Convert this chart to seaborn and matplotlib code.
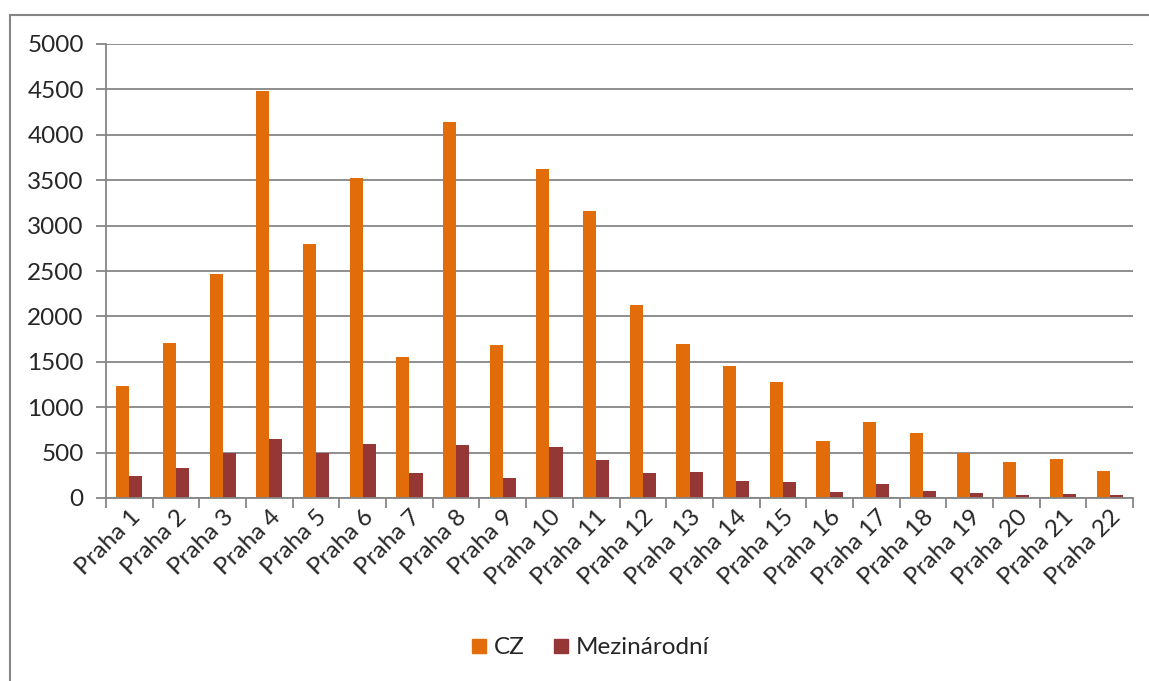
import pandas as pd
import numpy as np
import matplotlib
matplotlib.use("Agg")
import matplotlib.pyplot as plt
import seaborn as sns
from matplotlib.patches import Rectangle

# data
districts = [f"Praha {i}" for i in range(1, 23)]
cz = [1230, 1710, 2470, 4480, 2800, 3520, 1550, 4140, 1680, 3620, 3160,
      2130, 1700, 1450, 1275, 630, 840, 720, 500, 395, 435, 300]
intl = [240, 330, 500, 650, 500, 600, 270, 585, 220, 565, 420,
        275, 285, 190, 175, 70, 150, 80, 55, 30, 45, 35]
series = ["CZ", "Mezinárodní"]
colors = ["#E36C0A", "#953735"]

df = pd.DataFrame({"district": districts * 2,
                   "value": cz + intl,
                   "series": [series[0]] * len(cz) + [series[1]] * len(intl)})

sns.set_style("white")
plt.rcParams["font.family"] = ["Lato", "DejaVu Sans"]
grey = "#868686"

fig = plt.figure(figsize=(11.49, 6.81), dpi=100)
ax = fig.add_axes([106 / 1149, 1 - 498 / 681, (1133 - 106) / 1149, (498 - 44) / 681])

sns.barplot(data=df, x="district", y="value", hue="series", palette=colors,
            width=0.56, gap=0, ax=ax, legend=False, edgecolor="none", saturation=1)

ax.set_ylim(0, 5000)
ax.set_xlim(-0.5, len(districts) - 0.5)
ax.set_yticks(np.arange(0, 5001, 500))
ax.yaxis.grid(True, color=grey, lw=1.3)
ax.set_axisbelow(True)
ax.set_xlabel("")
ax.set_ylabel("")

for s in ["top", "right"]:
    ax.spines[s].set_visible(False)
for s in ["left", "bottom"]:
    ax.spines[s].set_color(grey)
    ax.spines[s].set_linewidth(1.3)

ax.tick_params(axis="y", length=7, width=1.3, color=grey, left=True, labelsize=17.5, pad=9)
ax.set_xticks(np.arange(len(districts)))
ax.set_xticklabels(districts, rotation=45, ha="right", rotation_mode="anchor", fontsize=17.5)
ax.tick_params(axis="x", which="major", length=0, pad=6)
ax.set_xticks(np.arange(-0.5, len(districts), 1), minor=True)
ax.tick_params(axis="x", which="minor", length=7, width=1.3, color=grey, bottom=True)

handles = [Rectangle((0, 0), 1, 1, color=c) for c in colors]
fig.legend(handles, series, loc="center", bbox_to_anchor=(591 / 1149, 1 - 648 / 681),
           ncol=2, frameon=False, fontsize=17.5, handlelength=0.55, handleheight=0.55,
           handletextpad=0.35, columnspacing=1.2)

fig.patches.append(Rectangle((10 / 1149, -0.01), 1.0, 1 - 15 / 681 + 0.01,
                             transform=fig.transFigure, fill=False,
                             edgecolor=grey, lw=1.5))

fig.savefig("out.png", dpi=100)
